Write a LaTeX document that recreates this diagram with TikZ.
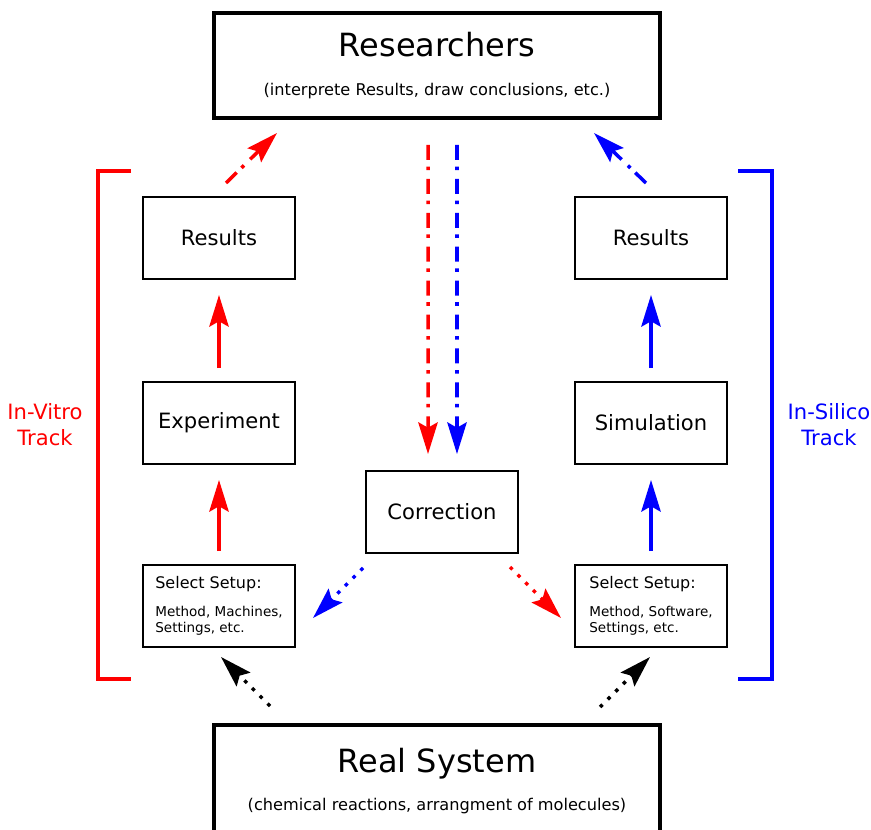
\documentclass[tikz,border=0pt]{standalone}
\usepackage{fontspec}
\setmainfont{DejaVu Sans}
\usepackage{tikz}
\usetikzlibrary{arrows.meta,positioning}

\begin{document}
\begin{tikzpicture}[x=0.02cm, y=-0.02cm,
    every node/.style={inner sep=0pt},
    box/.style={draw, line width=1.1pt, minimum width=3.04cm, minimum height=1.64cm, font=\fontsize{12}{14.5}\selectfont},
    setupbox/.style={box, align=left, font=\fontsize{7.7}{9}\selectfont},
    bigbox/.style={draw, line width=2.3pt, minimum width=8.92cm, minimum height=2.1cm},
    headline/.style={font=\fontsize{18.2}{22}\selectfont, anchor=base},
    note/.style={font=\fontsize{9.2}{11}\selectfont, anchor=base},
    tiphead/.style={-{Stealth[length=18pt,width=11pt,inset=3pt]}},
    flow/.style={tiphead, line width=2pt, shorten <=0.26cm, shorten >=0.3cm},
    dashdot/.style={tiphead, line width=2pt, dash pattern=on 8.5pt off 3.8pt on 2pt off 5pt},
    dots/.style={tiphead, line width=2pt, dash pattern=on 2pt off 4.2pt},
    bracket/.style={line width=2.3pt},
    track/.style={align=center, font=\fontsize{12}{14.7}\selectfont}
]
\useasboundingbox (0,0) rectangle (871,830);
\clip (0,0) rectangle (871,830);

% 1. Researchers (top)
\node[bigbox] (res) at (437,65.5) {};
\node[headline] (restitle) at (437,57) {Researchers};
\node[note] (resnote) at (437,96) {(interprete Results, draw conclusions, etc.)};

% 2. Real System (bottom, runs off the page)
\node[bigbox, minimum height=2.24cm] (sys) at (437,781) {};
\node[headline] (systitle) at (437,772) {Real System};
\node[note] (sysnote) at (437,810) {(chemical reactions, arrangment of molecules)};

% 3. In-Vitro track (left column)
\node[box] (lres) at (219,238) {Results};
\node[box] (lexp) at (219,423) {Experiment};
\node[setupbox] (lsetup) at (219,606) {{\fontsize{9.1}{10}\selectfont Select Setup:}\\[7pt]Method, Machines,\\Settings, etc.};

% 4. In-Silico track (right column)
\node[box] (rres) at (651,238) {Results};
\node[box] (rsim) at (651,423) {Simulation};
\node[setupbox] (rsetup) at (651,606) {{\fontsize{9.1}{10}\selectfont Select Setup:}\\[7pt]Method, Software,\\Settings, etc.};

% 5. Correction (centre)
\node[box] (corr) at (442,512) {Correction};

% brackets and track labels
\draw[bracket, red] (131,171) -- (98,171) -- (98,679) -- (131,679);
\draw[bracket, blue] (738,171) -- (772,171) -- (772,679) -- (738,679);
\node[track, red] (vitro) at (45,425) {In-Vitro\\Track};
\node[track, blue] (silico) at (829,425) {In-Silico\\Track};

% free ends of the slanted arrows
\coordinate (vitrofrom) at (226,183);
\coordinate (vitroto) at (277,133);
\coordinate (silicofrom) at (646,183);
\coordinate (silicoto) at (594,133);
\coordinate (fixlfrom) at (363,568);
\coordinate (fixlto) at (313,618);
\coordinate (fixrfrom) at (510,567);
\coordinate (fixrto) at (561,618);
\coordinate (syslfrom) at (270,706);
\coordinate (syslto) at (221,657);
\coordinate (sysrfrom) at (600,707);
\coordinate (sysrto) at (650,657);

% solid flow inside the tracks
\draw[flow, red] (lsetup) -- (lexp);
\draw[flow, red] (lexp) -- (lres);
\draw[flow, blue] (rsetup) -- (rsim);
\draw[flow, blue] (rsim) -- (rres);

% results back to the researchers
\draw[dashdot, red] (vitrofrom) -- (vitroto);
\draw[dashdot, blue] (silicofrom) -- (silicoto);
\draw[dashdot, red, shorten <=0.5cm, shorten >=0.32cm] ([xshift=-0.18cm]res.south) -- ([xshift=-0.28cm]corr.north);
\draw[dashdot, blue, shorten <=0.5cm, shorten >=0.32cm] ([xshift=0.4cm]res.south) -- ([xshift=0.3cm]corr.north);

% correction and real system into the setups
\draw[dots, blue] (fixlfrom) -- (fixlto);
\draw[dots, red] (fixrfrom) -- (fixrto);
\draw[dots] (syslfrom) -- (syslto);
\draw[dots] (sysrfrom) -- (sysrto);

\end{tikzpicture}
\end{document}
